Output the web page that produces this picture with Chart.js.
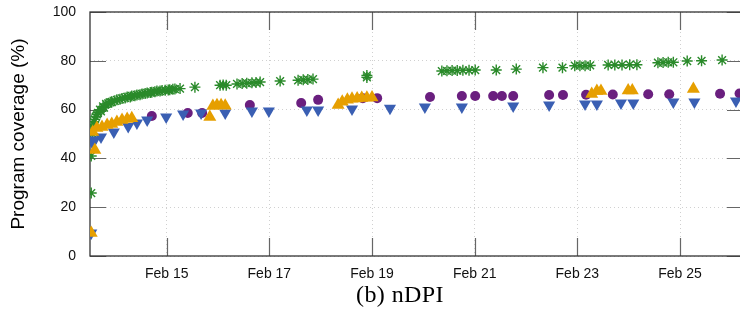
<!DOCTYPE html>
<html>
<head>
<meta charset="utf-8">
<script src="https://cdn.jsdelivr.net/npm/chart.js@4"></script>
<style>
html, body { margin: 0; padding: 0; background: #fff; overflow: hidden; }
#wrap { position: relative; width: 740px; height: 321px; overflow: hidden; }
#caption { position: absolute; left: 300px; top: 281px; width: 200px; text-align: center;
  font-family: "Liberation Serif", "DejaVu Serif", serif; font-size: 24px; letter-spacing: 0.4px; color: #000; }
</style>
</head>
<body>
<div id="wrap">
<canvas id="coverage" width="760" height="321"></canvas>
<div id="caption">(b) nDPI</div>
</div>
<script>
// days are day-of-month in February, coverage in %
const xTicks = [15, 17, 19, 21, 23, 25];
const yTicks = [0, 20, 40, 60, 80, 100];

const asteriskDays = [13.53, 13.53, 13.55, 13.56, 13.56, 13.58, 13.60, 13.62, 13.64, 13.66, 13.70, 13.72, 13.76, 13.78,
    13.82, 13.86, 13.90, 13.93, 13.99, 14.03, 14.09, 14.13, 14.19, 14.23, 14.29, 14.32, 14.38, 14.42, 14.48, 14.52,
    14.58, 14.62, 14.68, 14.71, 14.77, 14.81, 14.87, 14.91, 14.97, 15.03, 15.06, 15.12, 15.16, 15.26,
    15.55, 16.04, 16.10, 16.16, 16.37, 16.47, 16.56, 16.66, 16.74, 16.82, 17.21,
    17.56, 17.66, 17.75, 17.85, 18.90, 18.90,
    20.36, 20.46, 20.56, 20.66, 20.77, 20.89, 21.01, 21.42, 21.81, 22.33, 22.71,
    22.95, 23.05, 23.15, 23.25, 23.60, 23.73, 23.87, 24.02, 24.16,
    24.57, 24.67, 24.77, 24.87, 25.14, 25.42, 25.82];
const asteriskCov = [25.8, 41, 47.5, 50, 53, 55, 56, 57, 58, 58.7, 60, 59.3, 61.3, 60.8,
    62.3, 62.5, 63, 63.2, 63.6, 64, 64.2, 64.6, 64.8, 65.2, 65.2, 65.6, 65.7, 66, 66.1, 66.4,
    66.6, 66.8, 67, 67.1, 67.3, 67.6, 67.6, 67.8, 67.9, 68, 68.1, 68.3, 68.4, 68.6,
    69.2, 70, 70.1, 70, 70.5, 70.7, 70.8, 71, 71.1, 71.3, 71.7,
    72, 72.2, 72.3, 72.5, 73.2, 74,
    75.8, 75.9, 76, 76, 76.1, 76.1, 76.2, 76.2, 76.6, 77.2, 77.2,
    78, 78, 78, 78.1, 78.3, 78.3, 78.3, 78.4, 78.4,
    79.2, 79.3, 79.4, 79.4, 79.9, 80, 80.3];

const circleDays = [14.71, 15.41, 15.69, 16.62, 17.62, 17.95, 18.82, 19.10, 20.13, 20.75, 21.01, 21.36, 21.53,
    21.75, 22.45, 22.72, 23.17, 23.69, 24.38, 24.79, 25.78, 26.16];
const circleCov = [57.4, 58.6, 58.6, 61.9, 62.7, 64, 64.7, 64.7, 65.2, 65.6, 65.6, 65.6, 65.6,
    65.6, 66, 66, 66.1, 66.2, 66.3, 66.3, 66.5, 66.6];

const upDays = [13.53, 13.60, 13.56, 13.64, 13.74, 13.84, 13.93, 14.03, 14.13, 14.23, 14.32,
    15.84, 15.90, 15.98, 16.06, 16.14,
    18.34, 18.42, 18.52, 18.61, 18.71, 18.80, 18.90, 19.00,
    23.28, 23.38, 23.46, 23.99, 24.07, 25.26];
const upCov = [9.4, 43.4, 50.8, 52.5, 52.9, 53.7, 54.1, 54.9, 55.7, 56.1, 56.5,
    57, 61.5, 61.8, 61.8, 61.6,
    61.9, 63.2, 64, 64.4, 64.6, 64.8, 64.9, 65,
    66.4, 67.6, 67.6, 67.8, 67.8, 68.4];

const downDays = [13.53, 13.55, 13.60, 13.72, 13.97, 14.25, 14.42, 14.62, 14.99, 15.32, 15.67, 16.14, 16.66, 16.99,
    17.73, 17.95, 18.61, 19.35, 20.03, 20.75, 21.75, 22.45, 23.15, 23.38, 23.85, 24.09, 24.87, 25.28, 26.09];
const downCov = [9.4, 46.5, 47.5, 48.8, 50.8, 53.1, 54.5, 55.7, 57, 58.2, 58.6, 58.6, 59.4, 59.4,
    59.8, 59.8, 60.2, 60.6, 61.1, 61.1, 61.5, 61.9, 62.3, 62.3, 62.7, 62.7, 63.1, 63.1, 63.5];

function toPoints(xs, ys)
{
    const pts = [];
    for (let i = 0; i < xs.length; i++) {
        pts.push({x: xs[i], y: ys[i]});
    }
    return pts;
}

// gnuplot-like frame with inward ticks on all four sides
const frameTicks = {
    id: 'frameTicks',
    beforeDatasetsDraw(chart) {
        const ctx = chart.ctx;
        const a = chart.chartArea;
        const xs = chart.scales.x;
        const ys = chart.scales.y;
        ctx.save();
        ctx.strokeStyle = '#666';
        ctx.lineWidth = 1.2;
        ctx.beginPath();
        for (const v of yTicks) {
            const py = Math.round(ys.getPixelForValue(v)) + 0.5;
            ctx.moveTo(a.left, py); ctx.lineTo(a.left + 16, py);
            ctx.moveTo(a.right, py); ctx.lineTo(a.right - 16, py);
        }
        for (const v of xTicks) {
            const px = Math.round(xs.getPixelForValue(v)) + 0.5;
            ctx.moveTo(px, a.bottom); ctx.lineTo(px, a.bottom - 18);
            ctx.moveTo(px, a.top); ctx.lineTo(px, a.top + 18);
        }
        ctx.stroke();
        ctx.strokeStyle = '#333';
        ctx.lineWidth = 1.3;
        ctx.strokeRect(a.left, a.top, a.right - a.left, a.bottom - a.top);
        ctx.restore();
    }
};

function showCoverageChart()
{
    const ctx = document.getElementById('coverage').getContext('2d');

    const chartData = {
        datasets: [{
            data: toPoints(upDays, upCov),
            pointStyle: 'triangle',
            pointRadius: 7.5,
            backgroundColor: '#e69f00',
            borderWidth: 0
        }, {
            data: toPoints(downDays, downCov),
            pointStyle: 'triangle',
            rotation: 180,
            pointRadius: 7,
            backgroundColor: '#3a5fb3',
            borderWidth: 0
        }, {
            data: toPoints(asteriskDays, asteriskCov),
            pointStyle: 'star',
            pointRadius: 5.5,
            borderColor: '#2a8a2a',
            backgroundColor: '#2a8a2a',
            borderWidth: 1.4
        }, {
            data: toPoints(circleDays, circleCov),
            pointStyle: 'circle',
            pointRadius: 5,
            backgroundColor: '#6a1f7f',
            borderWidth: 0
        }]
    };

    new Chart(ctx, {
        type: 'scatter',
        data: chartData,
        plugins: [frameTicks],
        options: {
            responsive: false,
            animation: false,
            devicePixelRatio: 1,
            layout: { padding: { top: 12, right: 17, left: 0, bottom: 0 } },
            plugins: { legend: { display: false }, tooltip: { enabled: false } },
            scales: {
                x: {
                    type: 'linear',
                    min: 13.506,
                    max: 26.227,
                    afterBuildTicks: (s) => { s.ticks = xTicks.map(v => ({value: v})); },
                    afterFit: (s) => { s.height = 65; s.paddingLeft = 0; s.paddingRight = 0; },
                    grid: { color: '#d0d0d0', lineWidth: 1, drawTicks: false },
                    border: { display: false, dash: [1, 3] },
                    ticks: {
                        padding: 10,
                        color: '#111',
                        font: { family: '"Liberation Sans", Arial, sans-serif', size: 14 },
                        callback: (v) => 'Feb ' + v
                    }
                },
                y: {
                    min: 0,
                    max: 100,
                    afterBuildTicks: (s) => { s.ticks = yTicks.map(v => ({value: v})); },
                    afterFit: (s) => { s.width = 90; s.paddingTop = 0; s.paddingBottom = 0; },
                    grid: { color: '#d0d0d0', lineWidth: 1, drawTicks: false },
                    border: { display: false, dash: [1, 3] },
                    ticks: {
                        padding: 14,
                        color: '#111',
                        font: { family: '"Liberation Sans", Arial, sans-serif', size: 14 }
                    },
                    title: {
                        display: true,
                        text: 'Program coverage (%)',
                        color: '#000',
                        padding: { top: 7, bottom: 0 },
                        font: { family: '"Liberation Sans", Arial, sans-serif', size: 19, weight: 'normal' }
                    }
                }
            }
        }
    });
}

showCoverageChart();
</script>
</body>
</html>
